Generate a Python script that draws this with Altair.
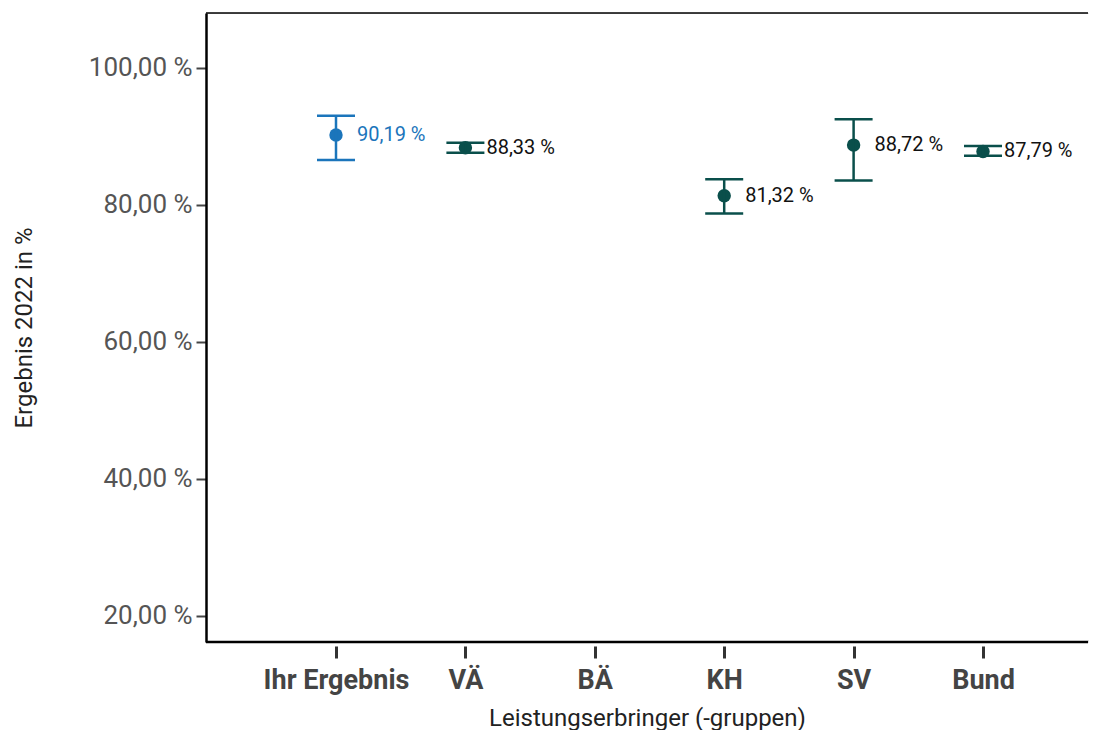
import altair as alt
import pandas as pd

categories = ["Ihr Ergebnis", "VÄ", "BÄ", "KH", "SV", "Bund"]
groups = ["Ihr Ergebnis", "VÄ", "KH", "SV", "Bund"]
values = [90.19, 88.33, 81.32, 88.72, 87.79]
lower = [86.55, 87.60, 78.75, 83.55, 87.15]
upper = [93.00, 89.05, 83.75, 92.50, 88.60]
kinds = ["own", "ref", "ref", "ref", "ref"]

labels = [f"{v:.2f}".replace(".", ",") + " %" for v in values]
df = pd.DataFrame({"group": groups,
                   "pos": [categories.index(g) for g in groups],
                   "value": values, "lower": lower,
                   "upper": upper, "kind": kinds, "label": labels})

W, H = 882, 629
STEP = 129.4
FONT = "Roboto"
x0 = -130 / STEP
cat_js = "[" + ",".join(f"'{c}'" for c in categories) + "]"

xscale = alt.Scale(domain=[x0, x0 + W / STEP], nice=False, zero=False)
yscale = alt.Scale(domain=[16.2, 108], nice=False, zero=False)

color = alt.Color("kind:N", scale=alt.Scale(domain=["own", "ref"],
                  range=["#1b75bb", "#0a4f4b"]), legend=None)
tcolor = alt.Color("kind:N", scale=alt.Scale(domain=["own", "ref"],
                   range=["#1b75bb", "#111111"]), legend=None)

x = alt.X("pos:Q", scale=xscale,
          axis=alt.Axis(title="Leistungserbringer (-gruppen)", labelAngle=0,
                        values=list(range(len(categories))),
                        labelExpr=cat_js + "[datum.value]",
                        domain=False, offset=4, tickSize=12, tickWidth=3,
                        tickColor="#333333", labelFontWeight="bold",
                        labelColor="#444444", labelFontSize=27, labelPadding=9,
                        labelFlush=False, labelOverlap=False,
                        titleFontSize=24, titleColor="#222222", grid=False,
                        titleFontWeight="normal", titlePadding=13))
y = alt.Y("value:Q", scale=yscale,
          axis=alt.Axis(title="Ergebnis 2022 in %", values=[20, 40, 60, 80, 100],
                        labelExpr="replace(format(datum.value, '.2f'), '.', ',') + ' %'",
                        domainColor="#000000", domainWidth=2.5, tickSize=10,
                        tickWidth=2, tickColor="#444444", labelColor="#555555",
                        labelFontSize=26, labelPadding=4, titleFontSize=24,
                        titleColor="#222222", titleFontWeight="normal",
                        titlePadding=52, grid=False))

base = alt.Chart(df)

rules = base.mark_rule(strokeWidth=2.5, opacity=1).encode(
    x=x, y=alt.Y("lower:Q", scale=yscale), y2="upper:Q", color=color)
caps_lo = base.mark_tick(size=38, thickness=2.5, orient="horizontal", opacity=1).encode(
    x=x, y=alt.Y("lower:Q", scale=yscale), color=color)
caps_hi = base.mark_tick(size=38, thickness=2.5, orient="horizontal", opacity=1).encode(
    x=x, y=alt.Y("upper:Q", scale=yscale), color=color)
points = base.mark_circle(size=180, opacity=1).encode(x=x, y=y, color=color)
texts = base.mark_text(align="left", baseline="middle", dx=21, fontSize=20,
                       font=FONT).encode(x=x, y=alt.Y("value:Q", scale=yscale),
                                         text="label:N", color=tcolor)
frame = pd.DataFrame({"a": [0]})
bottom = alt.Chart(frame).mark_rule(color="#000000", strokeWidth=2.5).encode(
    x=alt.value(0), x2=alt.value(W), y=alt.value(H))
top = alt.Chart(frame).mark_rule(color="#000000", strokeWidth=1.5).encode(
    x=alt.value(0), x2=alt.value(W), y=alt.value(0))
right_mask = alt.Chart(frame).mark_rule(color="#ffffff", strokeWidth=3).encode(
    x=alt.value(W), y=alt.value(1), y2=alt.value(H - 2))

chart = alt.layer(points, rules, caps_lo, caps_hi, texts, bottom, top,
                  right_mask).resolve_scale(
    color="independent").properties(
    width=W, height=H, padding={"left": 4, "top": 4, "right": 0, "bottom": 0}
).configure_view(stroke=None, strokeWidth=0).configure(font=FONT)

chart.save("out.html", embed_options={"renderer": "svg", "actions": False})
